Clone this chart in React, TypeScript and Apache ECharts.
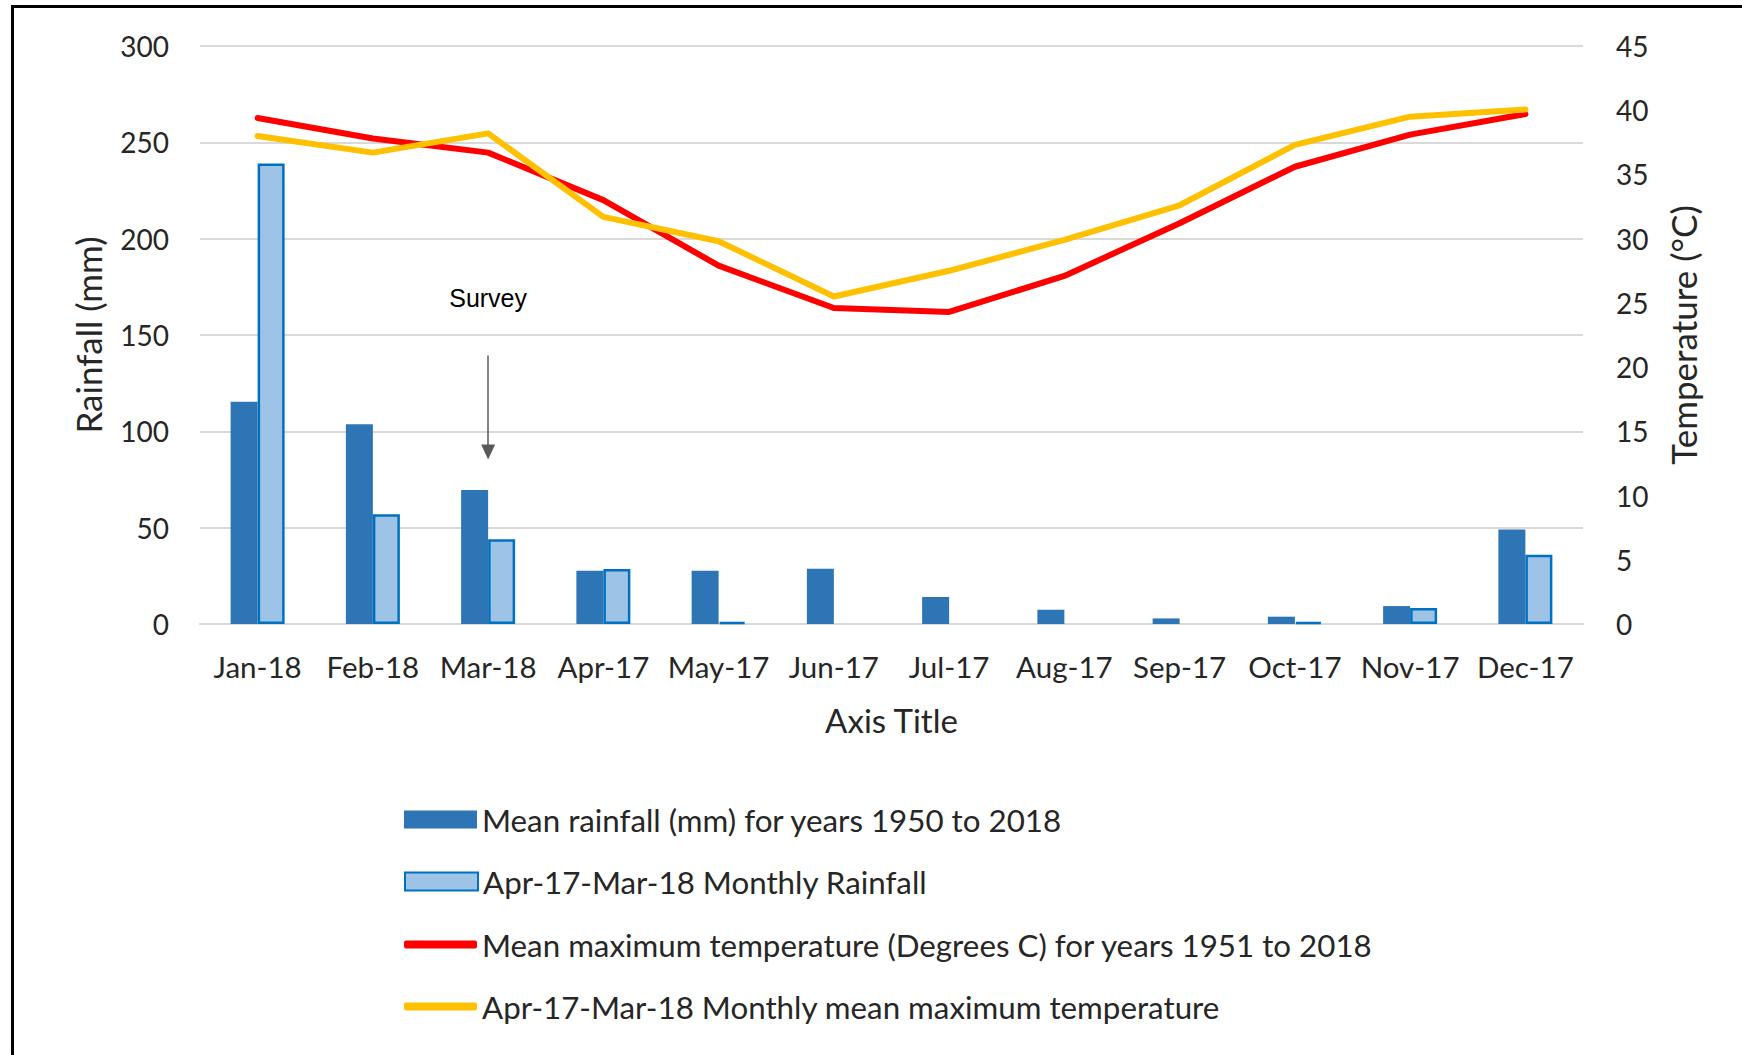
import React, { useEffect, useRef } from "react";
import * as echarts from "echarts";

const categories = ["Jan-18", "Feb-18", "Mar-18", "Apr-17", "May-17", "Jun-17", "Jul-17", "Aug-17", "Sep-17", "Oct-17", "Nov-17", "Dec-17"];
const meanRainfall = [115.4, 103.7, 69.5, 27.6, 27.6, 28.7, 14, 7.4, 2.9, 3.8, 9.3, 49];
const monthlyRainfall = [239, 57, 44, 28.5, 1, null, null, null, null, 1, 8.3, 36];
const meanMaxTemp = [39.4, 37.8, 36.7, 33.0, 27.9, 24.6, 24.3, 27.1, 31.2, 35.6, 38.1, 39.7];
const monthlyMaxTemp = [38.0, 36.7, 38.2, 31.7, 29.8, 25.5, 27.5, 29.9, 32.6, 37.3, 39.5, 40.05];

const seriesNames = [
  "Mean rainfall (mm) for years 1950 to 2018",
  "Apr-17-Mar-18 Monthly Rainfall",
  "Mean maximum temperature (Degrees C) for years 1951 to 2018",
  "Apr-17-Mar-18 Monthly mean maximum temperature",
];

const FONT = "Lato";
const TXT = "#262626";

export default function App() {
  const ref = useRef<HTMLDivElement>(null);
  useEffect(() => {
    if (!ref.current) return;
    const chart = echarts.init(ref.current, undefined, { renderer: "svg" });
    const legendTops = [821, 883, 946, 1008];
    const legends = seriesNames.map((n, i) => ({
      data: [n],
      left: 404,
      top: legendTops[i] - 17,
      padding: 0,
      orient: "vertical",
      itemWidth: 73,
      itemHeight: i < 2 ? 18 : 8,
      icon: i < 2 ? "rect" : "roundRect",
      selectedMode: false,
      textStyle: { fontFamily: FONT, fontSize: 31.3, color: TXT, lineHeight: 30 },
    }));
    chart.setOption({
      animation: false,
      backgroundColor: "#ffffff",
      legend: legends,
      grid: { left: 200, right: 159, top: 46, bottom: 431, containLabel: false },
      xAxis: {
        type: "category",
        data: categories,
        axisLine: { lineStyle: { color: "#D9D9D9", width: 2 } },
        axisTick: { show: false },
        axisLabel: { fontFamily: FONT, fontSize: 29.5, color: TXT, margin: 27, interval: 0 },
        name: "Axis Title",
        nameLocation: "middle",
        nameGap: 79,
        nameTextStyle: { fontFamily: FONT, fontSize: 33, color: TXT, verticalAlign: "top" },
      },
      yAxis: [
        {
          type: "value",
          min: 0,
          max: 300,
          interval: 50,
          axisLine: { show: false },
          axisTick: { show: false },
          splitLine: { lineStyle: { color: "#D9D9D9", width: 2 } },
          axisLabel: { fontFamily: FONT, fontSize: 28, color: TXT, margin: 31 },
          name: "Rainfall (mm)",
          nameLocation: "middle",
          nameRotate: 90,
          nameGap: 95,
          nameTextStyle: { fontFamily: FONT, fontSize: 35, color: TXT },
        },
        {
          type: "value",
          min: 0,
          max: 45,
          interval: 5,
          position: "right",
          axisLine: { show: false },
          axisTick: { show: false },
          splitLine: { show: false },
          axisLabel: { fontFamily: FONT, fontSize: 28, color: TXT, margin: 33 },
          name: "Temperature (°C)",
          nameLocation: "middle",
          nameRotate: 90,
          nameGap: 82,
          nameTextStyle: { fontFamily: FONT, fontSize: 35, color: TXT },
        },
      ],
      series: [
        {
          name: seriesNames[0],
          type: "bar",
          data: meanRainfall,
          barWidth: 27,
          barGap: "0%",
          itemStyle: { color: "#2E75B6" },
        },
        {
          name: seriesNames[1],
          type: "bar",
          data: monthlyRainfall,
          barWidth: 27,
          barGap: "0%",
          itemStyle: { color: "#9DC3E6", borderColor: "#0070C0", borderWidth: 2.5 },
        },
        {
          name: seriesNames[2],
          type: "line",
          yAxisIndex: 1,
          data: meanMaxTemp,
          showSymbol: false,
          symbol: "none",
          itemStyle: { color: "#FF0000" },
          lineStyle: { color: "#FF0000", width: 6, cap: "round", join: "round" },
          z: 5,
          markLine: {
            silent: true,
            symbol: ["none", "triangle"],
            symbolSize: [14, 15],
            label: { show: false },
            lineStyle: { color: "#595959", width: 1.5, type: "solid" },
            data: [[{ coord: ["Mar-18", 20.9] }, { coord: ["Mar-18", 13.4] }]],
          },
          markPoint: {
            silent: true,
            symbol: "circle",
            symbolSize: 0,
            data: [{ coord: ["Mar-18", 25.4] }],
            label: {
              show: true,
              formatter: "Survey",
              fontFamily: "Liberation Sans",
              fontSize: 25,
              color: "#000",
              position: "inside",
            },
          },
        },
        {
          name: seriesNames[3],
          type: "line",
          yAxisIndex: 1,
          data: monthlyMaxTemp,
          showSymbol: false,
          symbol: "none",
          itemStyle: { color: "#FFC000" },
          lineStyle: { color: "#FFC000", width: 6, cap: "round", join: "round" },
          z: 6,
        },
      ],
    });
    return () => chart.dispose();
  }, []);
  return (
    <div style={{ position: "fixed", left: 0, top: 0, width: 1742, height: 1055, background: "#fff", overflow: "hidden" }}>
      <div ref={ref} style={{ position: "absolute", left: 0, top: 0, width: 1742, height: 1055 }} />
      <div
        style={{
          position: "absolute",
          left: 11,
          top: 5,
          width: 1800,
          height: 1100,
          border: "3px solid #000",
          boxSizing: "border-box",
          pointerEvents: "none",
        }}
      />
    </div>
  );
}
